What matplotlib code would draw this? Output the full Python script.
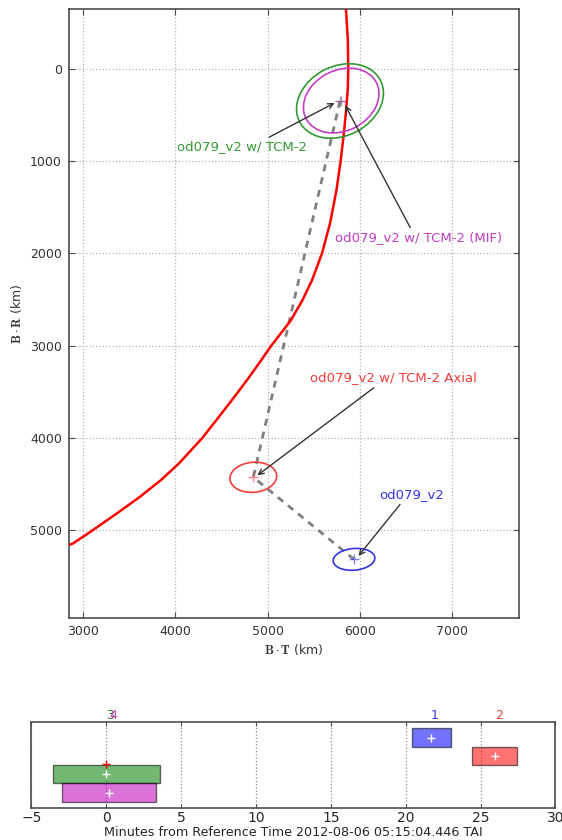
#!/usr/bin/env python3
"""
B-plane targeting plot with a TCM timing strip underneath.
"""

import matplotlib
matplotlib.use('Agg')
import matplotlib.pyplot as plt
from matplotlib.patches import Ellipse

plt.rcParams['font.family'] = ['DejaVu Sans']
plt.rcParams['mathtext.fontset'] = 'cm'

# --- red target contour (B.T, B.R in km) ---
curve_bt = [5850, 5870, 5875, 5869, 5845, 5823, 5791, 5747, 5677, 5590,
            5482, 5379, 5254, 5172, 5037, 4907, 4777, 4641, 4462, 4289,
            4039, 3844, 3616, 3367, 3095, 2889, 2792]
curve_br = [-651, -315, 0, 228, 517, 734, 1006, 1312, 1674, 1999,
            2289, 2505, 2722, 2831, 3004, 3192, 3373, 3554, 3785, 4005,
            4277, 4458, 4639, 4819, 5008, 5146, 5181]

# --- solutions: name, B.T, B.R, ellipse width/height/angle ---
sol_names = ['od079_v2', 'od079_v2 w/ TCM-2 Axial', 'od079_v2 w/ TCM-2', 'od079_v2 w/ TCM-2 (MIF)']
sol_colors = ['#3333e6', '#f03c3c', '#339933', '#c33cc3']
sol_bt = [5937, 4845, 5785, 5798]
sol_br = [5318, 4428, 347, 342]
ell_w = [453, 508, 985, 857]
ell_h = [235, 326, 755, 657]
ell_ang = [-5, -5, -27, -27]

# path between solutions (dashed)
path_order = [0, 1, 2]

# annotation text centres (data) and arrow tips
label_bt = [6561, 6366, 4722, 6642]
label_br = [4610, 3348, 846, 1833]
tip_bt = [5967, 4865, 5753, 5828]
tip_br = [5304, 4425, 354, 369]
arrow_rel = [(0.37, 0.0), (0.41, 0.0), (0.66, 1.0), (0.46, 1.0)]

# --- TCM timing strip (minutes from reference time) ---
tcm_ids = ['1', '2', '3', '4']
tcm_colors = ['blue', 'red', 'green', 'm']
tcm_label_colors = ['#3333e6', '#f03c3c', '#2f6f2f', '#d040c0']
tcm_start = [20.42, 24.40, -3.58, -2.96]
tcm_end = [22.99, 27.42, 3.58, 3.31]
tcm_mid = [21.69, 25.94, 0.00, 0.17]
tcm_row = [4, 3, 2, 1]

fig = plt.figure(figsize=(5.62, 8.4), dpi=100)

# ---------------- B-plane ----------------
ax = fig.add_axes([0.1224, 0.2643, 0.8004, 0.725])
ax.plot(curve_bt, curve_br, color='red', lw=1.8, zorder=3)

ax.plot([sol_bt[i] for i in path_order], [sol_br[i] for i in path_order],
        color='0.5', lw=2, dashes=(2.5, 2.2), zorder=2)

for i in range(len(sol_names)):
    e = Ellipse((sol_bt[i], sol_br[i]), ell_w[i], ell_h[i], angle=ell_ang[i],
                fill=False, edgecolor=sol_colors[i], lw=1.2, zorder=4)
    ax.add_patch(e)
    ax.plot(sol_bt[i], sol_br[i], '+', color=sol_colors[i], ms=7, alpha=0.6, zorder=5)
    ax.annotate(sol_names[i], xy=(tip_bt[i], tip_br[i]), xytext=(label_bt[i], label_br[i]),
                color=sol_colors[i], fontsize=9.5, ha='center', va='center',
                arrowprops=dict(arrowstyle='->', color='0.2', lw=1.0,
                                relpos=arrow_rel[i], shrinkA=1, shrinkB=2),
                zorder=6)

ax.set_xlim(2844, 7722)
ax.set_ylim(5954, -651)
ax.set_xticks([3000, 4000, 5000, 6000, 7000])
ax.set_yticks([0, 1000, 2000, 3000, 4000, 5000])
ax.grid(True, color='0.7', linestyle=':', lw=0.9)
ax.tick_params(direction='in', top=True, right=True, length=4, labelsize=9,
               labelcolor='0.2', color='0.3', pad=5)
for s in ax.spines.values():
    s.set_color('0.3')
    s.set_linewidth(1.2)
ax.set_xlabel(r'$\mathbf{B}\cdot\mathbf{T}$ (km)', fontsize=9, color='0.2', labelpad=3)
ax.set_ylabel(r'$\mathbf{B}\cdot\mathbf{R}$ (km)', fontsize=9, color='0.2', labelpad=4)

# ---------------- TCM timing strip ----------------
bx = fig.add_axes([0.056, 0.0377, 0.9324, 0.1031])
for i in range(len(tcm_ids)):
    bx.barh(tcm_row[i], tcm_end[i] - tcm_start[i], left=tcm_start[i], height=1.0,
            color=tcm_colors[i], alpha=0.55, edgecolor='k', lw=1.0, zorder=3)
    bx.plot(tcm_mid[i], tcm_row[i], '+', color='white', ms=6, mew=1, zorder=4)
    bx.text(tcm_mid[i], 0.995, tcm_ids[i], transform=bx.get_xaxis_transform(),
            color=tcm_label_colors[i], fontsize=9, ha='left', va='bottom')
bx.plot(0, 2.57, '+', color='red', ms=6, mew=1, zorder=5)

bx.set_xlim(-5, 30)
bx.set_ylim(0.14, 4.86)
bx.set_yticks([])
bx.set_xticks([-5, 0, 5, 10, 15, 20, 25, 30])
bx.grid(True, axis='x', color='0.55', linestyle=':', lw=0.9)
bx.tick_params(direction='in', top=True, length=3, labelsize=10, labelcolor='0.15',
               color='0.3', pad=2)
for s in bx.spines.values():
    s.set_color('0.3')
    s.set_linewidth(1.2)
bx.set_xlabel('Minutes from Reference Time 2012-08-06 05:15:04.446 TAI',
              fontsize=9.2, color='0.15', labelpad=1)

fig.savefig('out.png', dpi=100)
